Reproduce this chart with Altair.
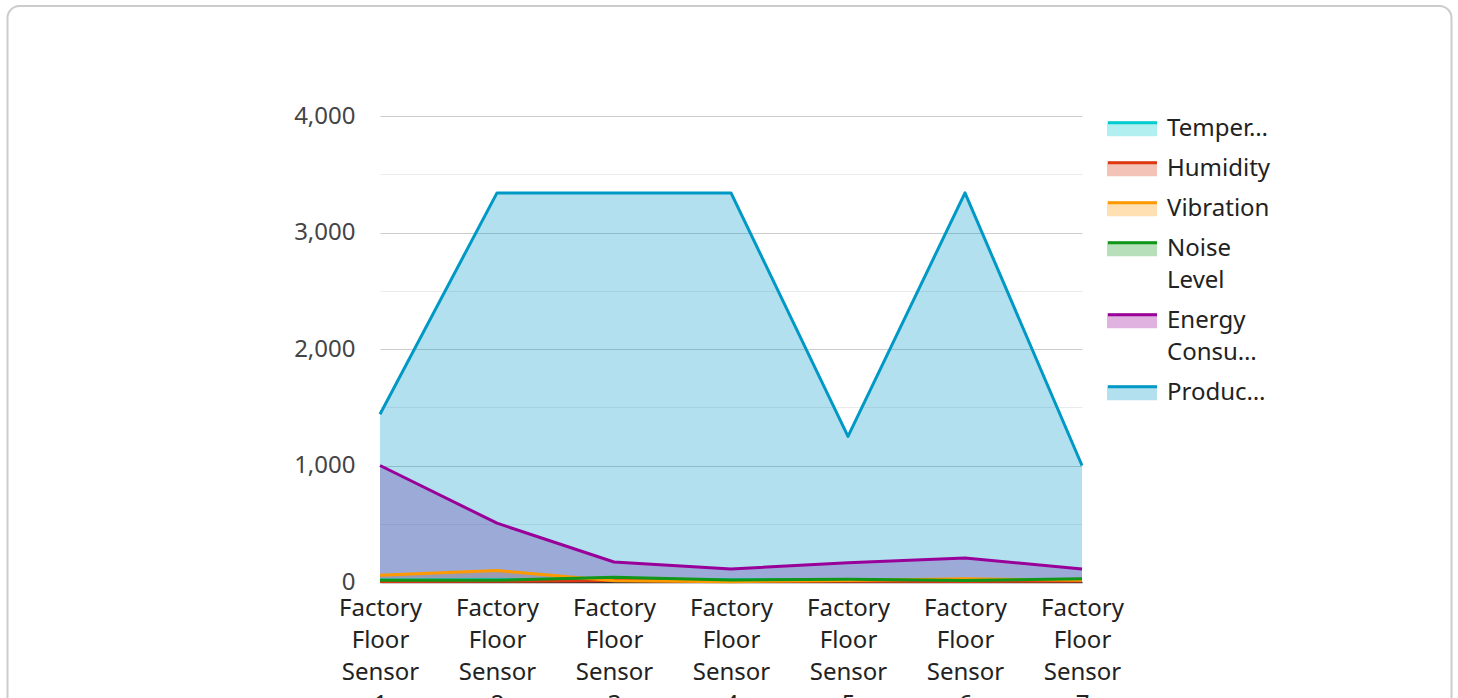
import altair as alt
import pandas as pd

sensors = [f"Factory Floor Sensor {i}" for i in range(1, 8)]
series_names = ["Temperature", "Humidity", "Vibration", "Noise Level",
                "Energy Consumption", "Production Output"]
temperature = [18, 20, 24, 19, 21, 17, 20]
humidity = [5, 6, 12, 8, 6, 5, 9]
vibration = [57, 98, 10, 3, 12, 28, 15]
noise_level = [15, 15, 40, 18, 24, 12, 27]
energy_consumption = [1000, 505, 172, 112, 165, 205, 112]
production_output = [1440, 3340, 3340, 3340, 1250, 3340, 1000]
colors = ["#00CBCF", "#DC3912", "#FF9900", "#109618", "#990099", "#0099C6"]

# line legend uses a distinct (space-suffixed) domain so it is not merged
line_names = [n + " " for n in series_names]

values = [temperature, humidity, vibration, noise_level,
          energy_consumption, production_output]
rows = []
for name, lname, vals in zip(series_names, line_names, values):
    for s, v in zip(sensors, vals):
        rows.append({"sensor": s, "series": name, "line_series": lname, "value": v})
df = pd.DataFrame(rows)

FONT = "Noto Sans"
FS = 24
LABEL_EXPR = ("trim(datum.label) == 'Temperature' ? 'Temper\u2026' : "
              "trim(datum.label) == 'Noise Level' ? ['Noise', 'Level'] : "
              "trim(datum.label) == 'Energy Consumption' ? ['Energy', 'Consu\u2026'] : "
              "trim(datum.label) == 'Production Output' ? 'Produc\u2026' : trim(datum.label)")


def make_legend(kind):
    common = dict(
        title=None, orient="none", legendX=720, legendY=-11, padding=0,
        symbolSize=100,
        labelFont=FONT, labelFontSize=FS, labelColor="#222222", labelLimit=250,
        labelOffset=43, labelBaseline="top", rowPadding=4,
        labelExpr=LABEL_EXPR,
    )
    if kind == "fill":
        return alt.Legend(symbolType="M-1,0.85L9,0.85L9,3.85L-1,3.85Z",
                          symbolOpacity=0.3, symbolStrokeWidth=0, **common)
    return alt.Legend(symbolType="M-0.8,1.15L9,1.15", symbolStrokeWidth=3,
                      labelOpacity=0, **common)


x_enc = alt.X(
    "sensor:N", sort=sensors,
    scale=alt.Scale(type="point", padding=0),
    axis=alt.Axis(title=None, labelAngle=0, labelExpr="split(datum.label, ' ')",
                  labelLineHeight=32, labelFontSize=FS, labelFont=FONT,
                  labelColor="#222222", labelPadding=14, ticks=False,
                  domainColor="#333333", domainWidth=1.5, grid=False,
                  labelOverlap=False),
)
y_enc = alt.Y(
    "value:Q", stack=None,
    scale=alt.Scale(domain=[0, 4000], nice=False),
    axis=alt.Axis(title=None, values=list(range(0, 4001, 500)),
                  labelExpr="datum.value % 1000 === 0 ? format(datum.value, ',') : ''",
                  gridColor={"condition": {"test": "datum.value % 1000 === 0",
                                           "value": "#cccccc"},
                             "value": "#ebebeb"},
                  domain=False, ticks=False, labelFontSize=FS, labelFont=FONT,
                  labelColor="#444444", labelPadding=25),
)
fill_enc = alt.Fill("series:N", scale=alt.Scale(domain=series_names, range=colors),
                    legend=make_legend("fill"))
stroke_enc = alt.Stroke("line_series:N", scale=alt.Scale(domain=line_names, range=colors),
                        legend=make_legend("stroke"))

frame = alt.Chart(pd.DataFrame({"k": [0]})).mark_rect(
    fill="transparent", stroke="#cccccc", strokeWidth=2, cornerRadius=12
).encode(x=alt.value(-372.5), x2=alt.value(1071.5), y=alt.value(-110), y2=alt.value(700))

layers = [frame]
for s in series_names:
    layers.append(
        alt.Chart(df).transform_filter(alt.datum.series == s)
        .mark_area(fillOpacity=0.3, line=False)
        .encode(x=x_enc, y=y_enc, fill=fill_enc)
    )
for s in series_names:
    layers.append(
        alt.Chart(df).transform_filter(alt.datum.series == s)
        .mark_line(strokeWidth=3, strokeJoin="round")
        .encode(x=x_enc, y=y_enc, stroke=stroke_enc)
    )

chart = alt.layer(*layers).properties(
    width=702, height=466,
    autosize=alt.AutoSizeParams(type="none"),
    padding={"left": 380, "top": 116, "right": 376, "bottom": 116},
    background="white",
).configure(
    font=FONT,
    style={"guide-label": {"lineHeight": 32}},
    view=alt.ViewConfig(stroke="transparent", strokeWidth=0),
)

chart.save("out.html", embed_options={"renderer": "svg", "actions": False})
